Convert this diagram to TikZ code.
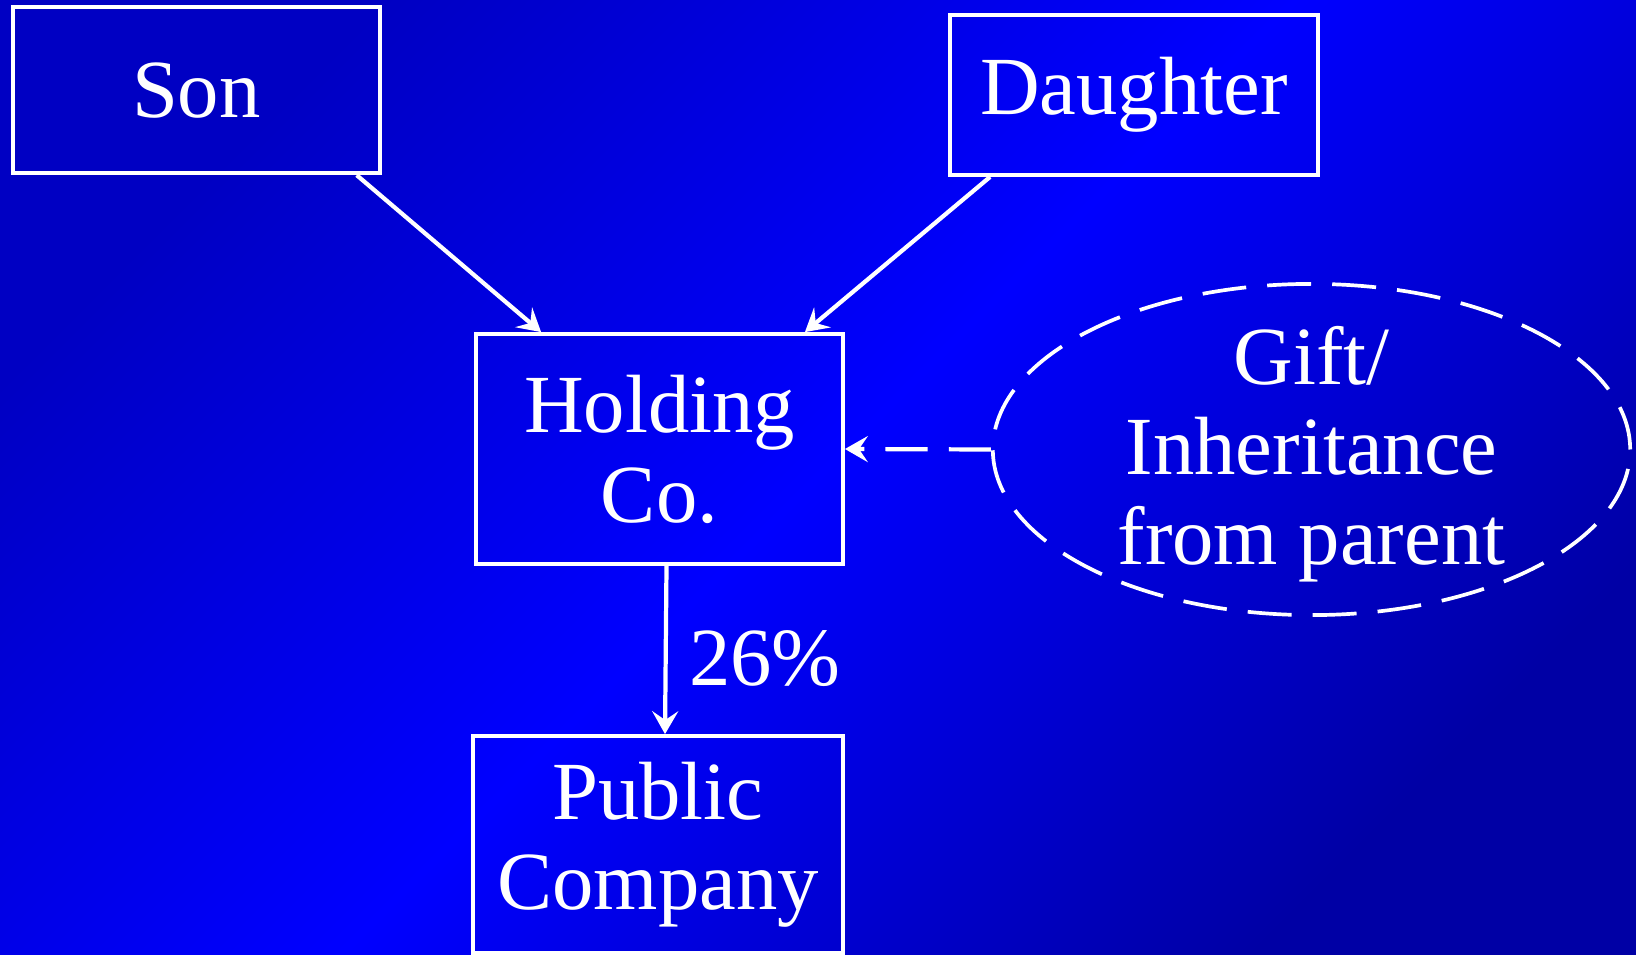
\documentclass[tikz,border=0pt]{standalone}
\usepackage{fontspec}
\setmainfont{Liberation Serif}
\usetikzlibrary{arrows.meta,shapes.geometric}

\definecolor{bgcorner}{RGB}{0,0,195}
\definecolor{bgcornerB}{RGB}{0,0,165}
\definecolor{bgmid}{RGB}{0,0,255}

\tikzset{
  lbl/.style={text=white, align=center, inner sep=0pt,
              font=\fontsize{23.5}{25.6}\selectfont},
  box/.style={lbl, draw=white, line width=1.05pt, rectangle},
  giftshape/.style={ellipse, draw=white, line width=1.05pt,
              dash pattern=on 12.5pt off 6pt, inner sep=0pt,
              minimum width=6.37cm, minimum height=3.31cm},
  link/.style={draw=white, line width=1.2pt,
              -{Stealth[length=6.5pt, width=7.4pt, inset=2.5pt]}},
}

\begin{document}
\begin{tikzpicture}[x=0.01cm, y=-0.01cm]
  % background with diagonal gradient
  \useasboundingbox (0,0) rectangle (1636,955);
  \shade[top color=bgcorner, bottom color=bgcornerB, middle color=bgmid,
         shading angle=45] (0,0) rectangle (1636,955);

  % boxes
  \node[box, minimum width=3.67cm, minimum height=1.66cm] (son) at (196.3,90.3) {Son};
  \node[box, minimum width=3.68cm, minimum height=1.60cm] (daughter) at (1134,95) {Daughter};
  \node[box, minimum width=3.67cm, minimum height=2.30cm] (holding) at (659.5,449) {Holding\\Co.};
  \node[box, minimum width=3.70cm, minimum height=2.17cm] (public) at (658,844.5) {Public\\Company};

  % gift / inheritance ellipse
  \node[giftshape] (gift) at (1311.5,449.5) {};
  \node[lbl] (giftlbl) at ([yshift=-0.05cm]gift.center) {Gift/\\Inheritance\\from parent};

  % ownership label
  \node[lbl] (pct) at (765,659) {26\%};

  % connectors
  \draw[link] ([xshift=-0.25cm]son.south east) -- ([xshift=0.67cm]holding.north west);
  \draw[link] ([xshift=0.42cm]daughter.south west) -- ([xshift=-0.40cm]holding.north east);
  \draw[link] ([xshift=0.07cm]holding.south) -- ([xshift=0.07cm]public.north);
  \draw[link, dash pattern=on 12pt off 6pt] (gift.west) -- (holding.east);
\end{tikzpicture}
\end{document}
